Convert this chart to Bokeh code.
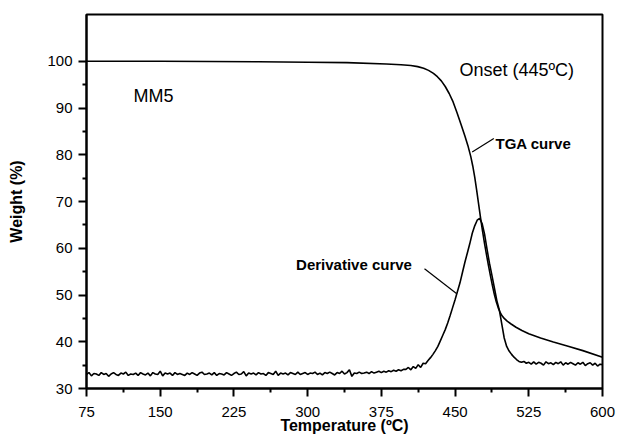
import numpy as np
from bokeh.plotting import figure
from bokeh.models import Range1d, FixedTicker, Label
from bokeh.embed import file_html
from bokeh.resources import INLINE

# ---------------- data ----------------
# TGA curve (temperature in ºC, weight in %)
tga_temp = [75, 150, 200, 250, 300, 340, 380, 395, 405, 412, 418, 423, 428, 432,
            436, 440, 444, 448, 452, 456, 460, 463, 466, 468, 470, 472, 474, 476,
            478, 480, 482, 484, 486, 488, 490, 492, 494, 496, 498, 500, 503, 507,
            512, 518, 525, 537, 550, 565, 580, 600]
tga_weight = [100.0, 100.0, 99.95, 99.9, 99.8, 99.7, 99.4, 99.25, 99.1, 98.85,
              98.5, 98.05, 97.4, 96.7, 95.8, 94.6, 93.1, 91.3, 89.0, 86.5, 84.0,
              82.0, 79.6, 77.6, 75.2, 72.4, 69.4, 66.4, 63.6, 61.0, 58.6, 56.3,
              54.1, 52.0, 50.1, 48.5, 47.2, 46.2, 45.5, 45.0, 44.4, 43.8, 43.1,
              42.4, 41.7, 40.8, 39.95, 39.05, 38.1, 36.7]

# Derivative curve sampled every 2.5 ºC from 75 to 600 ºC (plotted on the same scale)
deriv_start, deriv_step = 75.0, 2.5
deriv_values = [
    33.0, 33.4, 32.7, 33.2, 33.1, 32.8, 33.4, 33.0, 33.2, 32.6,   # 75
    33.1, 33.4, 33.0, 32.8, 33.3, 33.1, 33.5, 32.8, 33.1, 33.0,   # 100
    33.3, 32.8, 33.4, 33.1, 32.9, 33.3, 32.7, 33.4, 33.1, 33.0,   # 125
    33.7, 32.7, 33.3, 33.1, 33.3, 32.8, 33.4, 33.0, 33.2, 33.0,   # 150
    32.8, 33.3, 33.0, 33.4, 33.1, 32.8, 33.3, 33.5, 33.0, 33.1,   # 175
    33.3, 32.9, 33.4, 32.8, 33.2, 33.1, 32.9, 33.4, 33.1, 32.8,   # 200
    33.2, 33.5, 33.0, 33.1, 33.6, 32.7, 33.3, 33.1, 33.3, 32.9,   # 225
    33.4, 33.1, 33.2, 32.8, 33.4, 33.2, 33.0, 33.7, 32.8, 33.3,   # 250
    33.1, 33.3, 32.9, 33.4, 33.2, 33.0, 33.5, 33.0, 33.2, 33.4,   # 275
    33.0, 33.3, 33.2, 33.5, 33.0, 33.3, 32.9, 33.4, 33.2, 33.5,   # 300
    33.2, 32.9, 33.4, 33.2, 33.7, 33.1, 33.4, 34.0, 32.6, 33.3,   # 325
    33.2, 33.5, 33.2, 33.3, 33.5, 33.2, 33.6, 33.3, 33.5, 33.7,   # 350
    33.4, 33.7, 33.5, 33.8, 33.6, 33.9, 33.7, 34.0, 33.8, 34.1,   # 375
    34.1, 34.5, 34.0, 34.7, 34.3, 35.1, 34.5, 35.4, 35.3, 36.0,   # 400
    36.6, 37.3, 38.1, 39.0, 40.2, 41.4, 42.6, 44.0, 45.6, 47.3,   # 425
    49.0, 50.8, 52.6, 54.8, 57.0, 59.0, 61.0, 63.2, 64.8, 66.0,   # 450
    66.4, 65.3, 63.0, 59.8, 56.8, 54.2, 51.5, 48.8, 46.8, 43.8,   # 475
    40.8, 39.0, 38.0, 37.3, 36.7, 36.2, 35.8, 35.6, 35.8, 35.4,   # 500
    35.6, 35.2, 35.7, 35.2, 35.6, 35.4, 35.0, 35.7, 35.3, 35.5,   # 525
    35.1, 35.6, 35.3, 35.7, 35.0, 35.5, 35.2, 35.6, 35.3, 35.0,   # 550
    35.5, 35.2, 35.6, 34.9, 35.3, 35.5, 35.0, 35.4, 34.8, 35.2,   # 575
    35.1,                                                         # 600
]
deriv_temp = deriv_start + deriv_step * np.arange(len(deriv_values))

x_ticks = [75, 150, 225, 300, 375, 450, 525, 600]
x_minor = [112.5, 187.5, 262.5, 337.5, 412.5, 487.5, 562.5]
y_ticks = [30, 40, 50, 60, 70, 80, 90, 100]
y_minor = [35, 45, 55, 65, 75, 85, 95]

FONT = "Liberation Sans"

# ---------------- figure ----------------
p = figure(width=618, height=436, output_backend="svg", toolbar_location=None,
           x_range=Range1d(75, 600), y_range=Range1d(30, 110),
           min_border_left=86, min_border_right=16, min_border_top=14,
           min_border_bottom=47)
p.background_fill_color = "white"
p.border_fill_color = "white"
p.outline_line_color = "black"
p.outline_line_width = 2
p.grid.visible = False

p.line(deriv_temp, deriv_values, line_color="black", line_width=1.6)
p.line(tga_temp, tga_weight, line_color="black", line_width=1.6)

for ax in (p.xaxis[0], p.yaxis[0]):
    ax.axis_line_width = 2
    ax.axis_line_color = "black"
    ax.major_tick_line_width = 2
    ax.minor_tick_line_width = 2
    ax.major_tick_out = 8
    ax.major_tick_in = 0
    ax.minor_tick_out = 4
    ax.minor_tick_in = 0
    ax.major_label_text_font = FONT
    ax.major_label_text_font_size = "15px"
    ax.major_label_text_color = "black"
    ax.axis_label_text_font = FONT
    ax.axis_label_text_font_size = "16px"
    ax.axis_label_text_font_style = "bold"
    ax.axis_label_text_color = "black"

p.xaxis.ticker = FixedTicker(ticks=x_ticks, minor_ticks=x_minor)
p.yaxis.ticker = FixedTicker(ticks=y_ticks, minor_ticks=y_minor)
p.xaxis.axis_label = "Temperature (ºC)"
p.yaxis.axis_label = "Weight (%)"
p.xaxis.major_label_standoff = 10
p.xaxis.axis_label_standoff = -3
p.yaxis.major_label_standoff = 6
p.yaxis.axis_label_standoff = 19

# ---------------- annotations ----------------
p.add_layout(Label(x=122.8, y=92.6, text="MM5", text_font=FONT,
                   text_font_size="18px", text_baseline="middle", text_color="black"))
p.add_layout(Label(x=454.5, y=98.05, text="Onset (445ºC)", text_font=FONT,
                   text_font_size="18px", text_baseline="middle", text_color="black"))
p.add_layout(Label(x=491.1, y=82.5, text="TGA curve", text_font=FONT,
                   text_font_size="15px", text_font_style="bold",
                   text_baseline="middle", text_color="black"))
p.add_layout(Label(x=288.2, y=56.45, text="Derivative curve", text_font=FONT,
                   text_font_size="15px", text_font_style="bold",
                   text_baseline="middle", text_color="black"))

p.segment(x0=[467.4, 418.9], y0=[80.6, 55.6], x1=[489.4, 451.4], y1=[83.5, 50.3],
          line_color="black", line_width=1.2)

open("out.html", "w").write(file_html(p, INLINE))
